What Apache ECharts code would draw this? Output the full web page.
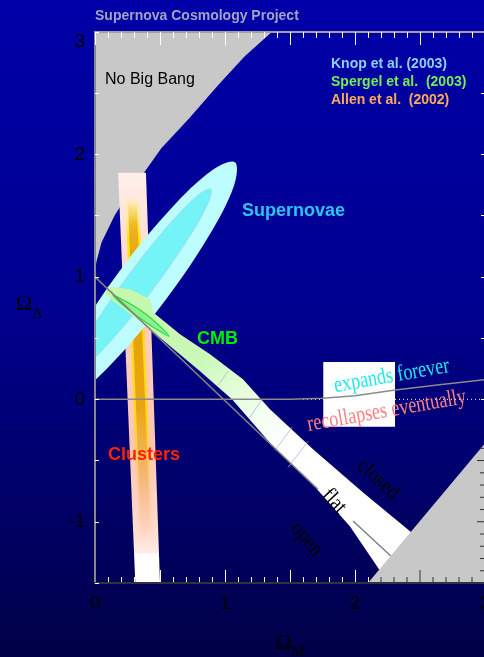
<!DOCTYPE html>
<html>
<head>
<meta charset="utf-8">
<script src="https://cdn.jsdelivr.net/npm/echarts@6/dist/echarts.min.js"></script>
<style>
html, body { margin: 0; padding: 0; background: #000060; }
#chart { width: 484px; height: 657px; }
</style>
</head>
<body>
<div id="chart"></div>
<script>
// Omega_M (x) vs Omega_Lambda (y)
const xRange = [0, 3]
const yRange = [-1.5, 3]

// grey "No Big Bang" corner, boundary from (0,1) up to the top edge
const noBigBang = [[0, 1.0], [0.01, 1.12], [0.05, 1.28], [0.15, 1.5], [0.25, 1.67], [0.37, 1.84],
  [0.51, 2.05], [0.72, 2.29], [0.95, 2.57], [1.15, 2.8], [1.36, 3.0], [0, 3.0]]
// grey corner bottom right
const lowerRight = [[2.1, -1.5], [3.0, -0.36], [3.0, -1.5]]
// dark ticks that show on that grey corner
const greyTicksX = [2.2, 2.3, 2.4, 2.5, 2.6, 2.7, 2.8, 2.9]
const greyTicksY = [-1.4, -1.3, -1.2, -1.1, -1.0, -0.9, -0.8, -0.7, -0.6, -0.5, -0.4]

// Allen et al. clusters strip
const clusterBand = [[0.178, 1.85], [0.392, 1.85], [0.50, -1.5], [0.31, -1.5]]
const clusterCore = [[0.234, 1.65], [0.337, 1.65], [0.45, -1.2], [0.34, -1.2]]
const clusterPeak = [[0.254, 1.6], [0.321, 1.6], [0.43, -1.15], [0.355, -1.15]]

// Knop et al. supernova contours (outline points)
const snOuter = [[-0.308, -0.025], [-0.132, 0.041], [0.182, 0.351], [0.551, 0.823], [0.874, 1.331],
  [1.067, 1.738], [1.077, 1.936], [0.901, 1.871], [0.587, 1.561], [0.218, 1.089], [-0.105, 0.581], [-0.297, 0.173]]
const snInner = [[-0.164, 0.228], [-0.050, 0.293], [0.175, 0.541], [0.450, 0.904], [0.701, 1.286],
  [0.862, 1.584], [0.890, 1.718], [0.776, 1.653], [0.552, 1.405], [0.277, 1.042], [0.026, 0.660], [-0.136, 0.362]]

// Spergel et al. CMB band along the flat line
const cmbBand = [[0.1, 0.923], [0.269, 0.899], [0.423, 0.817], [0.446, 0.711], [0.654, 0.531], [0.885, 0.368],
  [1.138, 0.163], [1.346, -0.082], [1.677, -0.408], [2.062, -0.76], [2.5, -1.144],
  [2.285, -1.552], [2.169, -1.364], [1.962, -1.038], [1.708, -0.735], [1.369, -0.384], [1.054, 0.0],
  [0.808, 0.229], [0.423, 0.572], [0.192, 0.76], [0.077, 0.858]]
const cmbInner = [[0.138, 0.85], [0.263, 0.785], [0.377, 0.707], [0.478, 0.617], [0.569, 0.515],
  [0.455, 0.585], [0.345, 0.665], [0.235, 0.752]]
const cmbHatch = [[1.023, 0.229, 0.946, 0.114], [1.285, 0.0, 1.192, -0.147],
  [1.515, -0.229, 1.385, -0.417], [1.638, -0.343, 1.485, -0.556]]

// lines
const flatUpper = [[0, 1], [1.715, -0.735]]
const flatLower = [[1.985, -0.994], [2.5, -1.5]]
const expandLine = [[0, 0], [1.5, 0], [1.75, 0.008], [2.0, 0.03], [2.31, 0.076], [2.65, 0.12], [3.0, 0.16]]
const zeroDotted = [[1.6, 0], [3.0, 0]]
const labelBox = [[1.756, 0.305], [2.308, -0.223]]

const sans = '"Liberation Sans", Arial, sans-serif'
const serif = '"Liberation Serif", "Times New Roman", serif'

const notes = [
  { text: 'No Big Bang', at: [0.077, 2.614], color: '#000', font: '16px ' + sans, align: 'left' },
  { text: 'Supernovae', at: [1.131, 1.536], color: '#2ec4f2', font: 'bold 18px ' + sans, align: 'left' },
  { text: 'CMB', at: [0.785, 0.494], color: '#00ee00', font: 'bold 18px ' + sans, align: 'left' },
  { text: 'Clusters', at: [0.1, -0.458], color: '#ff2200', font: 'bold 18px ' + sans, align: 'left' },
  { text: 'expands forever', at: [2.282, 0.19], color: '#1de9ea', font: '23px ' + serif, rot: 10, sx: 0.79 },
  { text: 'recollapses eventually', at: [2.244, -0.095], color: '#ff8080', font: '23px ' + serif, rot: 10, sx: 0.79 },
  { text: 'closed', at: [2.177, -0.654], color: '#000', font: '22px ' + serif, rot: -42, sx: 0.88 },
  { text: 'flat', at: [1.838, -0.833], color: '#000', font: '22px ' + serif, rot: -47, sx: 0.88 },
  { text: 'open', at: [1.627, -1.144], color: '#000', font: '22px ' + serif, rot: -50, sx: 0.88 }
]

function area(pts, style, z, smooth) {
  return {
    type: 'custom', z: z, clip: true, silent: true,
    data: pts,
    renderItem: function (params, api) {
      if (params.dataIndex !== 0) return null
      return {
        type: 'polygon',
        shape: { points: pts.map(function (p) { return api.coord(p) }), smooth: smooth || 0 },
        style: style
      }
    }
  }
}

function grad(x2, y2, stops) {
  return new echarts.graphic.LinearGradient(0, 0, x2, y2, stops.map(function (s) {
    return { offset: s[0], color: s[1] }
  }))
}

function line(data, style, z) {
  return { type: 'line', data: data, showSymbol: false, silent: true, z: z, lineStyle: style }
}

// short dark ticks drawn over the grey corner, along the bottom or right edge
function greyTicks(vals, onBottom) {
  return {
    type: 'custom', z: 9, clip: true, silent: true,
    data: vals,
    renderItem: function (params, api) {
      const v = api.value(0)
      const major = Math.abs(v * 2 - Math.round(v * 2)) < 1e-6
      if (onBottom) {
        const p = api.coord([v, yRange[0]])
        const len = major ? 13 : 6
        return { type: 'line', shape: { x1: p[0], y1: p[1], x2: p[0], y2: p[1] - len }, style: { stroke: '#303030', lineWidth: 1 } }
      }
      const q = api.coord([xRange[1], v])
      const len2 = major ? 8 : 5
      return { type: 'line', shape: { x1: q[0], y1: q[1], x2: q[0] - len2, y2: q[1] }, style: { stroke: '#303030', lineWidth: 1 } }
    }
  }
}

const white = '#ffffff'
const intLabel = function (v) { return Number.isInteger(v) ? String(v) : '' }

const xBase = { type: 'value', min: xRange[0], max: xRange[1], interval: 0.5, splitLine: { show: false } }
const yBase = { type: 'value', min: yRange[0], max: yRange[1], interval: 0.5, splitLine: { show: false } }

let myChart = echarts.init(document.getElementById('chart'))

myChart.setOption({
  animation: false,
  backgroundColor: grad(0, 1, [[0, '#0000a8'], [0.45, '#000090'], [1, '#000048']]),
  title: {
    text: 'Supernova Cosmology Project', left: 95, top: 9, padding: 0,
    textStyle: { color: '#a2a2c4', fontSize: 14, fontWeight: 'bold', fontFamily: sans }
  },
  grid: { left: 95, top: 32, width: 390, height: 551, show: false, outerBoundsMode: 'none', containLabel: false },
  xAxis: [
    Object.assign({}, xBase, {
      position: 'bottom', z: 1,
      axisLine: { show: false, onZero: false },
      axisTick: { inside: true, length: 13, lineStyle: { color: white, width: 1 } },
      minorTick: { show: true, splitNumber: 5, length: 6, lineStyle: { color: white, width: 1 } },
      axisLabel: { formatter: intLabel, color: '#000', fontSize: 19, fontFamily: sans, margin: 11 },
      name: '{o|Ω}{s|M}', nameLocation: 'middle', nameGap: 49,
      nameTextStyle: {
        rich: {
          o: { fontFamily: serif, fontSize: 22, color: '#000', verticalAlign: 'top', lineHeight: 28 },
          s: { fontFamily: serif, fontSize: 15, color: '#000', verticalAlign: 'bottom', lineHeight: 28 }
        }
      }
    }),
    Object.assign({}, xBase, {
      position: 'top', z: 10,
      axisLine: { show: true, onZero: false, lineStyle: { color: '#a0a0a0', width: 2 } },
      axisTick: { inside: true, length: 13, lineStyle: { color: white, width: 1 } },
      minorTick: { show: true, splitNumber: 5, length: 6, lineStyle: { color: white, width: 1 } },
      axisLabel: { show: false }
    }),
    Object.assign({}, xBase, {
      position: 'bottom', z: 10,
      axisLine: { show: true, onZero: false, lineStyle: { color: '#333340', width: 2 } },
      axisTick: { show: false },
      axisLabel: { show: false }
    })
  ],
  yAxis: [
    Object.assign({}, yBase, {
      position: 'left', z: 10,
      axisLine: { show: true, onZero: false, lineStyle: { color: '#888888', width: 2 } },
      axisTick: { inside: true, length: 4, lineStyle: { color: white, width: 1 } },
      axisLabel: {
        formatter: intLabel, color: '#000', fontSize: 19, fontFamily: sans, margin: 10,
        verticalAlignMaxLabel: 'top'
      },
      name: '{o|Ω}{s|Λ}', nameLocation: 'middle', nameRotate: 0, nameGap: 52,
      nameTextStyle: {
        rich: {
          o: { fontFamily: serif, fontSize: 22, color: '#000', verticalAlign: 'top', lineHeight: 28 },
          s: { fontFamily: serif, fontSize: 15, color: '#000', verticalAlign: 'bottom', lineHeight: 28 }
        }
      }
    }),
    Object.assign({}, yBase, {
      position: 'right', z: 1,
      axisLine: { show: false, onZero: false },
      axisTick: { inside: true, length: 4, lineStyle: { color: white, width: 1 } },
      axisLabel: { show: false }
    })
  ],
  graphic: [
    { type: 'text', left: 331, top: 57, style: { text: 'Knop et al. (2003)', fill: '#8ccfff', font: 'bold 14px ' + sans } },
    { type: 'text', left: 331, top: 75, style: { text: 'Spergel et al.  (2003)', fill: '#70ee55', font: 'bold 14px ' + sans } },
    { type: 'text', left: 331, top: 93, style: { text: 'Allen et al.  (2002)', fill: '#ffaa55', font: 'bold 14px ' + sans } }
  ],
  series: [
    area(noBigBang, { fill: '#c8c8c8' }, 2),
    area(clusterBand, {
      fill: grad(0, 1, [[0, '#fff0ec'], [0.09, '#ffe6dc'], [0.31, '#ffd0be'], [0.67, '#ffc6b0'],
        [0.87, '#ffdccf'], [0.925, '#ffeae4'], [0.93, '#ffffff'], [1, '#ffffff']])
    }, 3),
    area(clusterCore, {
      fill: grad(0, 1, [[0, 'rgba(255,236,80,0)'], [0.05, '#fff0a0'], [0.12, '#ffe600'], [0.65, '#ffd820'],
        [0.85, 'rgba(255,200,140,0.6)'], [1, 'rgba(255,200,170,0)']])
    }, 3),
    area(clusterPeak, {
      fill: grad(0, 1, [[0, 'rgba(232,160,0,0)'], [0.08, '#eeb020'], [0.2, '#e8a000'], [0.6, '#e9a412'],
        [0.82, 'rgba(240,170,110,0.6)'], [1, 'rgba(245,190,160,0)']])
    }, 3),
    area(snOuter, { fill: '#bdfcff' }, 4, 0.35),
    area(snInner, { fill: '#74f4f6', stroke: '#9fdcf4', lineWidth: 1 }, 4, 0.35),
    area(cmbBand, {
      fill: grad(1, 1, [[0, '#c4f7aa'], [0.28, '#caf8b8'], [0.37, '#e2fdd6'], [0.46, '#f2fff0'],
        [0.54, '#ffffff'], [1, '#ffffff']])
    }, 5),
    area(cmbInner, { fill: '#90f090', stroke: '#22dd44', lineWidth: 1.2 }, 6, 0.35),
    {
      type: 'custom', z: 6, clip: true, silent: true,
      data: cmbHatch,
      renderItem: function (params, api) {
        const a = api.coord([api.value(0), api.value(1)])
        const b = api.coord([api.value(2), api.value(3)])
        return { type: 'line', shape: { x1: a[0], y1: a[1], x2: b[0], y2: b[1] }, style: { stroke: '#b0b4d4', lineWidth: 0.8 } }
      }
    },
    line(zeroDotted, { color: white, width: 1, type: [1, 3] }, 5),
    {
      type: 'custom', z: 6, clip: true, silent: true,
      data: labelBox,
      renderItem: function (params, api) {
        if (params.dataIndex !== 0) return null
        const a = api.coord(labelBox[0])
        const b = api.coord(labelBox[1])
        return { type: 'rect', shape: { x: a[0], y: a[1], width: b[0] - a[0], height: b[1] - a[1] }, style: { fill: white } }
      }
    },
    line(expandLine, { color: '#8a8a8a', width: 1.5 }, 7),
    line(flatUpper, { color: '#808080', width: 1.5 }, 7),
    line(flatLower, { color: '#808080', width: 1.5 }, 7),
    area(lowerRight, { fill: '#c8c8c8' }, 8),
    greyTicks(greyTicksX, true),
    greyTicks(greyTicksY, false),
    {
      type: 'custom', z: 9, clip: false, silent: true,
      data: notes.map(function (n) { return n.at }),
      renderItem: function (params, api) {
        const n = notes[params.dataIndex]
        const p = api.coord(n.at)
        return {
          type: 'text', x: p[0], y: p[1],
          rotation: (n.rot || 0) * Math.PI / 180,
          scaleX: n.sx || 1,
          style: { text: n.text, fill: n.color, font: n.font, align: n.align || 'center', verticalAlign: 'middle' }
        }
      }
    }
  ]
})
</script>
</body>
</html>
